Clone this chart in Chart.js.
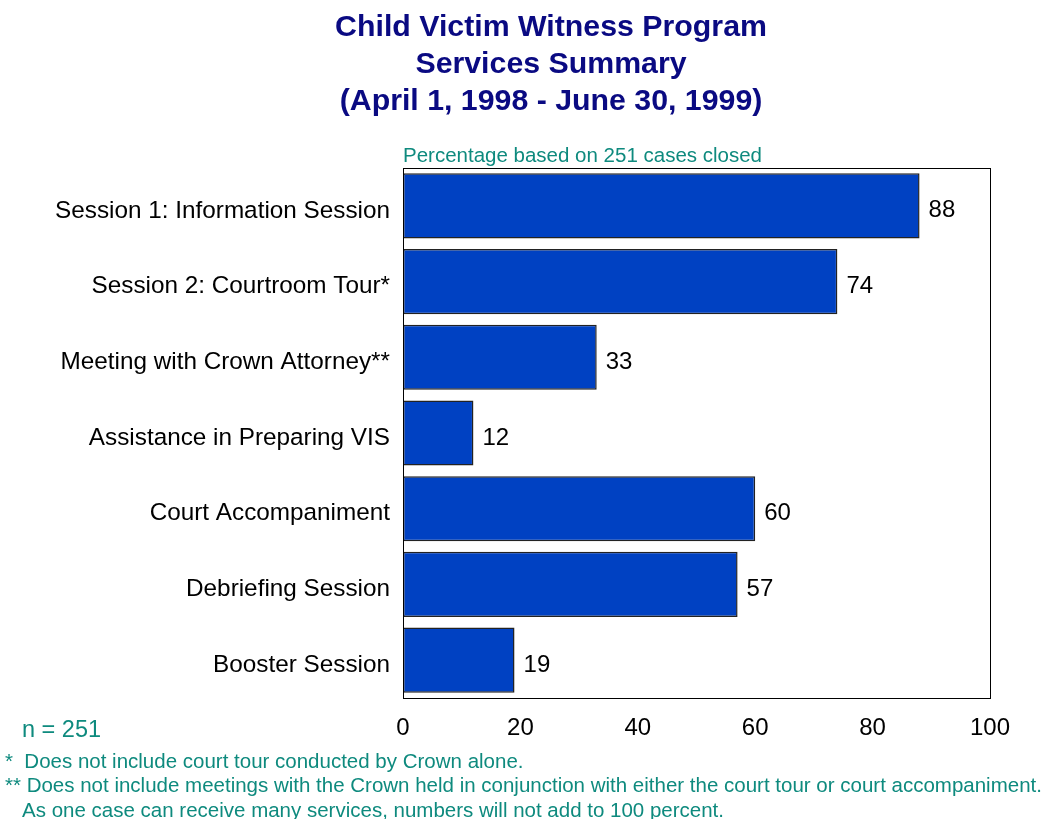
<!DOCTYPE html>
<html>
<head>
<meta charset="utf-8">
<script src="https://cdn.jsdelivr.net/npm/chart.js@4"></script>
<style>
  html, body { margin: 0; padding: 0; background: #fff; }
  #wrap { width: 1046px; height: 819px; position: relative; }
</style>
</head>
<body>
<div id="wrap"><canvas id="chart"></canvas></div>
<script>
// Child Victim Witness Program - services summary (horizontal bars)

const categories = [
    "Session 1: Information Session",
    "Session 2: Courtroom Tour*",
    "Meeting with Crown Attorney**",
    "Assistance in Preparing VIS",
    "Court Accompaniment",
    "Debriefing Session",
    "Booster Session"
];
const percentages = [88, 74, 33, 12, 60, 57, 19];
const xTicks = [0, 20, 40, 60, 80, 100];

const titleLines = [
    "Child Victim Witness Program",
    "Services Summary",
    "(April 1, 1998 - June 30, 1999)"
];
const subtitleText = "Percentage based on 251 cases closed";
const nText = "n = 251";
const footnotes = [
    "*  Does not include court tour conducted by Crown alone.",
    "** Does not include meetings with the Crown held in conjunction with either the court tour or court accompaniment.",
    "   As one case can receive many services, numbers will not add to 100 percent."
];

const FONT = "'Liberation Sans', Arial, sans-serif";
const NAVY = "#0A0A82";
const TEAL = "#0E8A7E";

// texte extra: titre, sous-titre, valeurs, notes et cadre
const decorations = {
    id: "decorations",
    afterDraw(chart) {
        const ctx = chart.ctx;
        const area = chart.chartArea;
        ctx.save();

        // cadre autour de la zone de tracé
        ctx.strokeStyle = "#000";
        ctx.lineWidth = 1;
        ctx.strokeRect(area.left + 0.5, area.top + 0.5, area.right - area.left, area.bottom - area.top);

        // titre
        ctx.fillStyle = NAVY;
        ctx.font = "bold 30.3px " + FONT;
        ctx.textAlign = "center";
        ctx.textBaseline = "middle";
        titleLines.forEach((line, i) => ctx.fillText(line, 551, 28 + i * 37));

        // sous-titre
        ctx.fillStyle = TEAL;
        ctx.font = "20.5px " + FONT;
        ctx.textAlign = "left";
        ctx.fillText(subtitleText, area.left, 156);

        // valeurs au bout des barres
        const meta = chart.getDatasetMeta(0);
        ctx.fillStyle = "#000";
        ctx.font = "24px " + FONT;
        meta.data.forEach((bar, i) => {
            ctx.fillText(String(percentages[i]), bar.x + 9, bar.y + 5);
        });

        // notes
        ctx.fillStyle = TEAL;
        ctx.font = "23.5px " + FONT;
        ctx.fillText(nText, 22, 731);
        ctx.font = "20.5px " + FONT;
        footnotes.forEach((line, i) => ctx.fillText(line, 5, 762 + i * 24.5));

        ctx.restore();
    }
};

new Chart(document.getElementById("chart"), {
    type: "bar",
    data: {
        labels: categories,
        datasets: [{
            data: percentages,
            backgroundColor: "#0041C2",
            borderColor: "#222",
            borderWidth: 1.5,
            borderSkipped: false,
            barPercentage: 0.86,
            categoryPercentage: 1
        }]
    },
    options: {
        indexAxis: "y",
        responsive: true,
        maintainAspectRatio: false,
        animation: false,
        layout: { padding: { top: 168, right: 56, left: 0, bottom: 0 } },
        plugins: {
            legend: { display: false },
            tooltip: { enabled: false }
        },
        scales: {
            x: {
                min: 0,
                max: 100,
                afterBuildTicks: (scale) => { scale.ticks = xTicks.map(v => ({ value: v })); },
                afterFit: (scale) => { scale.height = 121; },
                grid: { display: false, drawTicks: false },
                border: { display: false },
                ticks: {
                    color: "#000",
                    padding: 16,
                    font: { family: FONT, size: 24 }
                }
            },
            y: {
                afterFit: (scale) => { scale.width = 403; },
                grid: { display: false, drawTicks: false },
                border: { display: false },
                ticks: {
                    color: "#000",
                    padding: 13,
                    labelOffset: 5,
                    font: { family: FONT, size: 24.3 }
                }
            }
        }
    },
    plugins: [decorations]
});
</script>
</body>
</html>
